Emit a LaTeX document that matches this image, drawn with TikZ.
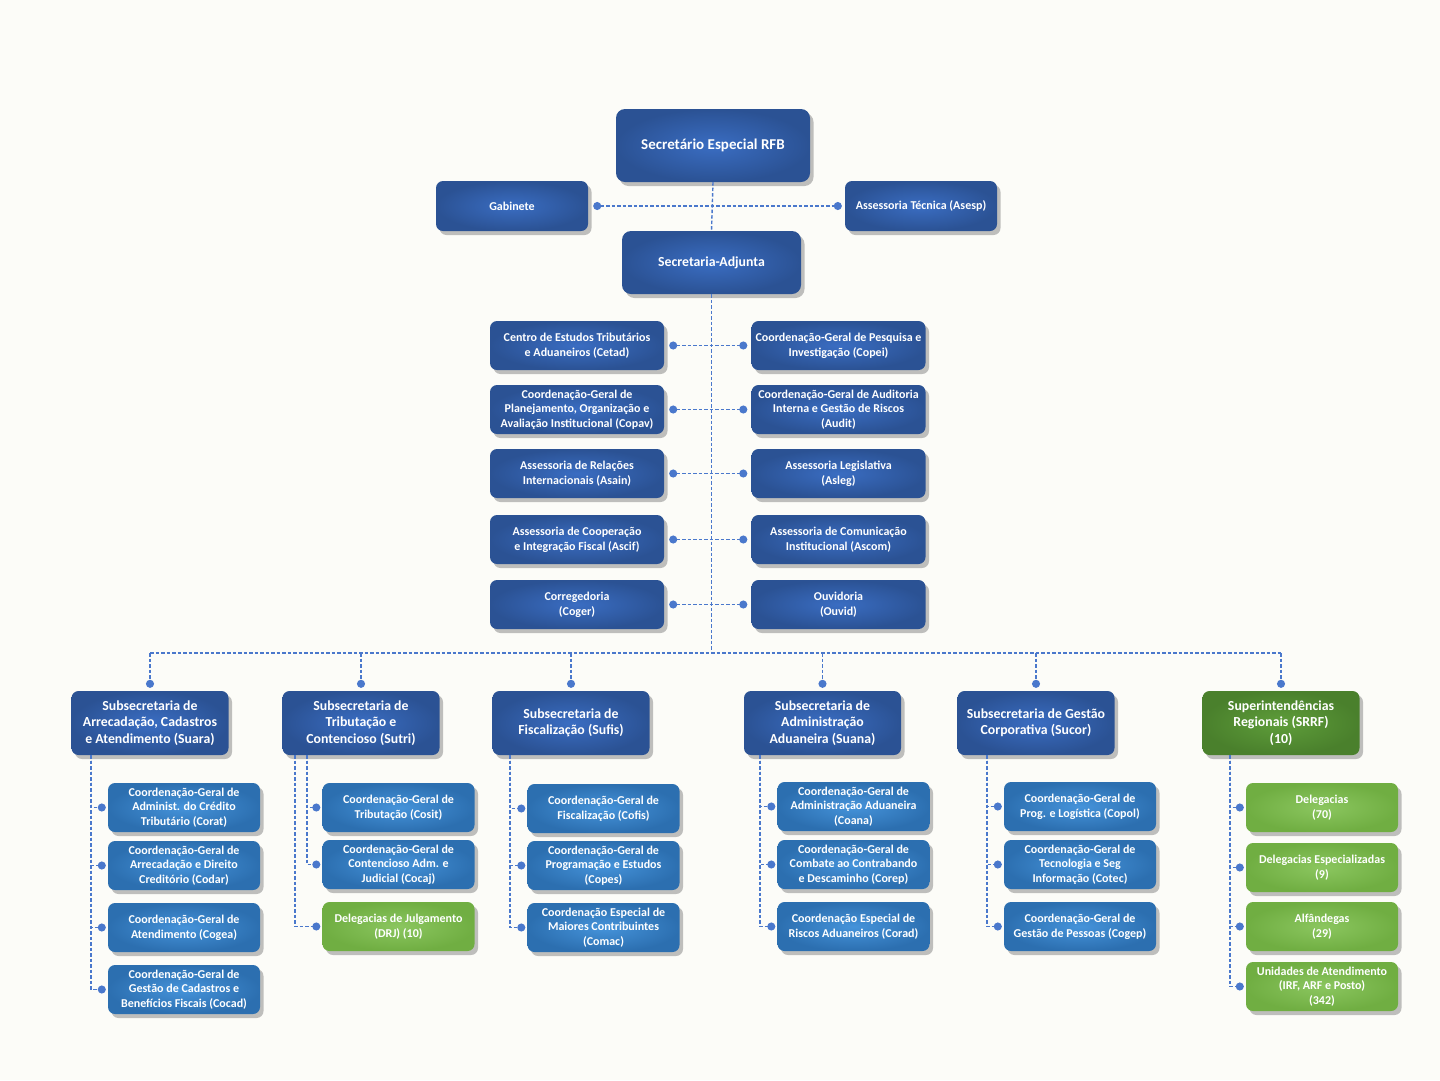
\documentclass[tikz,border=0pt]{standalone}
\usepackage{fontspec}
\setmainfont{Carlito}
\usetikzlibrary{arrows.meta,shadows}
\definecolor{bgc}{HTML}{FCFCF8}
\definecolor{lnc}{HTML}{4A78CC}
\definecolor{b1o}{HTML}{2B5294}
\definecolor{b1i}{HTML}{3A6DC2}
\definecolor{b3o}{HTML}{2C6FB0}
\definecolor{b3i}{HTML}{4593DA}
\definecolor{g1o}{HTML}{4A802C}
\definecolor{g1i}{HTML}{5E9D3A}
\definecolor{g3o}{HTML}{70AE42}
\definecolor{g3i}{HTML}{8BC65F}
\tikzset{
  boxbase/.style={rounded corners=7pt, text=white, align=center, inner sep=0pt,
    font=\bfseries\fontsize{12}{14.6}\selectfont,
    drop shadow={shadow xshift=3.5pt, shadow yshift=-4pt, fill=black!45, opacity=0.55}},
  darkbox/.style={boxbase, inner color=b1i, outer color=b1o},
  lightbox/.style={boxbase, inner color=b3i, outer color=b3o, minimum width=152pt, minimum height=49pt},
  dgreenbox/.style={boxbase, inner color=g1i, outer color=g1o},
  lgreenbox/.style={boxbase, inner color=g3i, outer color=g3o, minimum width=152pt, minimum height=49pt},
  midbox/.style={darkbox, minimum width=174pt, minimum height=49pt},
  subbox/.style={darkbox, minimum width=157pt, minimum height=64pt, font=\bfseries\fontsize{13.8}{16.2}\selectfont},
  conn/.style={lnc, line width=1.4pt, dash pattern=on 3.5pt off 2pt},
  dotend/.style={conn, -{Circle[length=8pt]}},
  dotboth/.style={conn, {Circle[length=8pt]}-{Circle[length=8pt]}},
}
\begin{document}
\begin{tikzpicture}[x=1pt,y=-1pt]
\fill[bgc] (0,0) rectangle (1440,1080);
\useasboundingbox (0,0) rectangle (1440,1080);

% top
\node[darkbox, minimum width=194pt, minimum height=73pt, rounded corners=9pt, font=\bfseries\fontsize{15}{18}\selectfont] (sec) at (713,145.5) {Secretário Especial RFB};
\node[darkbox, minimum width=152pt, minimum height=50pt] (gab) at (512,206) {Gabinete};
\node[darkbox, minimum width=152pt, minimum height=50pt] (ases) at (921,206) {Assessoria Técnica (Asesp)};
\node[darkbox, minimum width=179pt, minimum height=63pt, rounded corners=9pt, font=\bfseries\fontsize{13.8}{16}\selectfont] (adj) at (711.5,262.5) {Secretaria-Adjunta};

% middle rows
\node[midbox] (l1) at (577,345.5) {Centro de Estudos Tributários\\e Aduaneiros (Cetad)};
\node[midbox] (r1) at (838.5,345.5) {Coordenação-Geral de Pesquisa e\\Investigação (Copei)};
\node[midbox] (l2) at (577,409.5) {Coordenação-Geral de\\Planejamento, Organização e\\Avaliação Institucional (Copav)};
\node[midbox] (r2) at (838.5,409.5) {Coordenação-Geral de Auditoria\\Interna e Gestão de Riscos\\(Audit)};
\node[midbox] (l3) at (577,473.5) {Assessoria de Relações\\Internacionais (Asain)};
\node[midbox] (r3) at (838.5,473.5) {Assessoria Legislativa\\(Asleg)};
\node[midbox] (l4) at (577,539.5) {Assessoria de Cooperação\\e Integração Fiscal (Ascif)};
\node[midbox] (r4) at (838.5,539.5) {Assessoria de Comunicação\\Institucional (Ascom)};
\node[midbox] (l5) at (577,604.5) {Corregedoria\\(Coger)};
\node[midbox] (r5) at (838.5,604.5) {Ouvidoria\\(Ouvid)};

% level 2
\node[subbox] (suara) at (150,723) {Subsecretaria de\\Arrecadação, Cadastros\\e Atendimento (Suara)};
\node[subbox] (sutri) at (361,723) {Subsecretaria de\\Tributação e\\Contencioso (Sutri)};
\node[subbox] (sufis) at (571,723) {Subsecretaria de\\Fiscalização (Sufis)};
\node[subbox] (suana) at (822.5,723) {Subsecretaria de\\Administração\\Aduaneira (Suana)};
\node[subbox] (sucor) at (1036,723) {Subsecretaria de Gestão\\Corporativa (Sucor)};
\node[dgreenbox, minimum width=157pt, minimum height=64pt, font=\bfseries\fontsize{13.8}{16.2}\selectfont] (srrf) at (1281,723) {Superintendências\\Regionais (SRRF)\\(10)};

% level 3 - Suara
\node[lightbox] (corat) at (184,807.5) {Coordenação-Geral de\\Administ. do Crédito\\Tributário (Corat)};
\node[lightbox] (codar) at (184,865.5) {Coordenação-Geral de\\Arrecadação e Direito\\Creditório (Codar)};
\node[lightbox] (cogea) at (184,927.5) {Coordenação-Geral de\\Atendimento (Cogea)};
\node[lightbox] (cocad) at (184,989.5) {Coordenação-Geral de\\Gestão de Cadastros e\\Benefícios Fiscais (Cocad)};
% Sutri
\node[lightbox] (cosit) at (398.5,807.5) {Coordenação-Geral de\\Tributação (Cosit)};
\node[lightbox] (cocaj) at (398.5,864.5) {Coordenação-Geral de\\Contencioso Adm. e\\Judicial (Cocaj)};
\node[lgreenbox] (drj) at (398.5,926.5) {Delegacias de Julgamento\\(DRJ) (10)};
% Sufis
\node[lightbox] (cofis) at (603.5,808.5) {Coordenação-Geral de\\Fiscalização (Cofis)};
\node[lightbox] (copes) at (603.5,865.5) {Coordenação-Geral de\\Programação e Estudos\\(Copes)};
\node[lightbox] (comac) at (603.5,927.5) {Coordenação Especial de\\Maiores Contribuintes\\(Comac)};
% Suana
\node[lightbox] (coana) at (853.5,806.5) {Coordenação-Geral de\\Administração Aduaneira\\(Coana)};
\node[lightbox] (corep) at (853.5,864.5) {Coordenação-Geral de\\Combate ao Contrabando\\e Descaminho (Corep)};
\node[lightbox] (corad) at (853.5,926.5) {Coordenação Especial de\\Riscos Aduaneiros (Corad)};
% Sucor
\node[lightbox] (copol) at (1080,806.5) {Coordenação-Geral de\\Prog. e Logística (Copol)};
\node[lightbox] (cotec) at (1080,864.5) {Coordenação-Geral de\\Tecnologia e Seg\\Informação (Cotec)};
\node[lightbox] (cogep) at (1080,926.5) {Coordenação-Geral de\\Gestão de Pessoas (Cogep)};
% SRRF
\node[lgreenbox] (dele) at (1322,807.5) {Delegacias\\(70)};
\node[lgreenbox] (dees) at (1322,867.5) {Delegacias Especializadas\\(9)};
\node[lgreenbox] (alf) at (1322,926.5) {Alfândegas\\(29)};
\node[lgreenbox] (unid) at (1322,986.5) {Unidades de Atendimento\\(IRF, ARF e Posto)\\(342)};

% connectors top
\draw[conn] (sec.south) -- (adj.north);
\draw[dotboth] ([xshift=5pt]gab.east) -- ([xshift=-3pt]ases.west);
\coordinate (bus) at (711.5,653);
\draw[conn] (adj.south) -- (bus);
\foreach \l/\r in {l1/r1,l2/r2,l3/r3,l4/r4,l5/r5}
  \draw[dotboth] ([xshift=5pt]\l.east) -- ([xshift=-4pt]\r.west);

% bus
\draw[conn] (suara.north |- bus) -- (srrf.north |- bus);
\foreach \n in {suara,sutri,sufis,suana,sucor,srrf}
  \draw[dotend] (\n.north |- bus) -- ([yshift=3pt]\n.north);

% spines
\coordinate (sp1) at (91,755);
\foreach \c in {corat,codar,cogea,cocad}
  \draw[dotend] (sp1) |- ([xshift=-2pt]\c.west);
\coordinate (sp2a) at (295,755);
\coordinate (sp2b) at (307,755);
\draw[dotend] (sp2a) |- ([xshift=-2pt]drj.west);
\foreach \c in {cosit,cocaj}
  \draw[dotend] (sp2b) |- ([xshift=-2pt]\c.west);
\coordinate (sp3) at (510,755);
\foreach \c in {cofis,copes,comac}
  \draw[dotend] (sp3) |- ([xshift=-2pt]\c.west);
\coordinate (sp4) at (760,755);
\foreach \c in {coana,corep,corad}
  \draw[dotend] (sp4) |- ([xshift=-2pt]\c.west);
\coordinate (sp5) at (987,755);
\foreach \c in {copol,cotec,cogep}
  \draw[dotend] (sp5) |- ([xshift=-2pt]\c.west);
\coordinate (sp6) at (1230,755);
\foreach \c in {dele,dees,alf,unid}
  \draw[dotend] (sp6) |- ([xshift=-2pt]\c.west);
\end{tikzpicture}
\end{document}
